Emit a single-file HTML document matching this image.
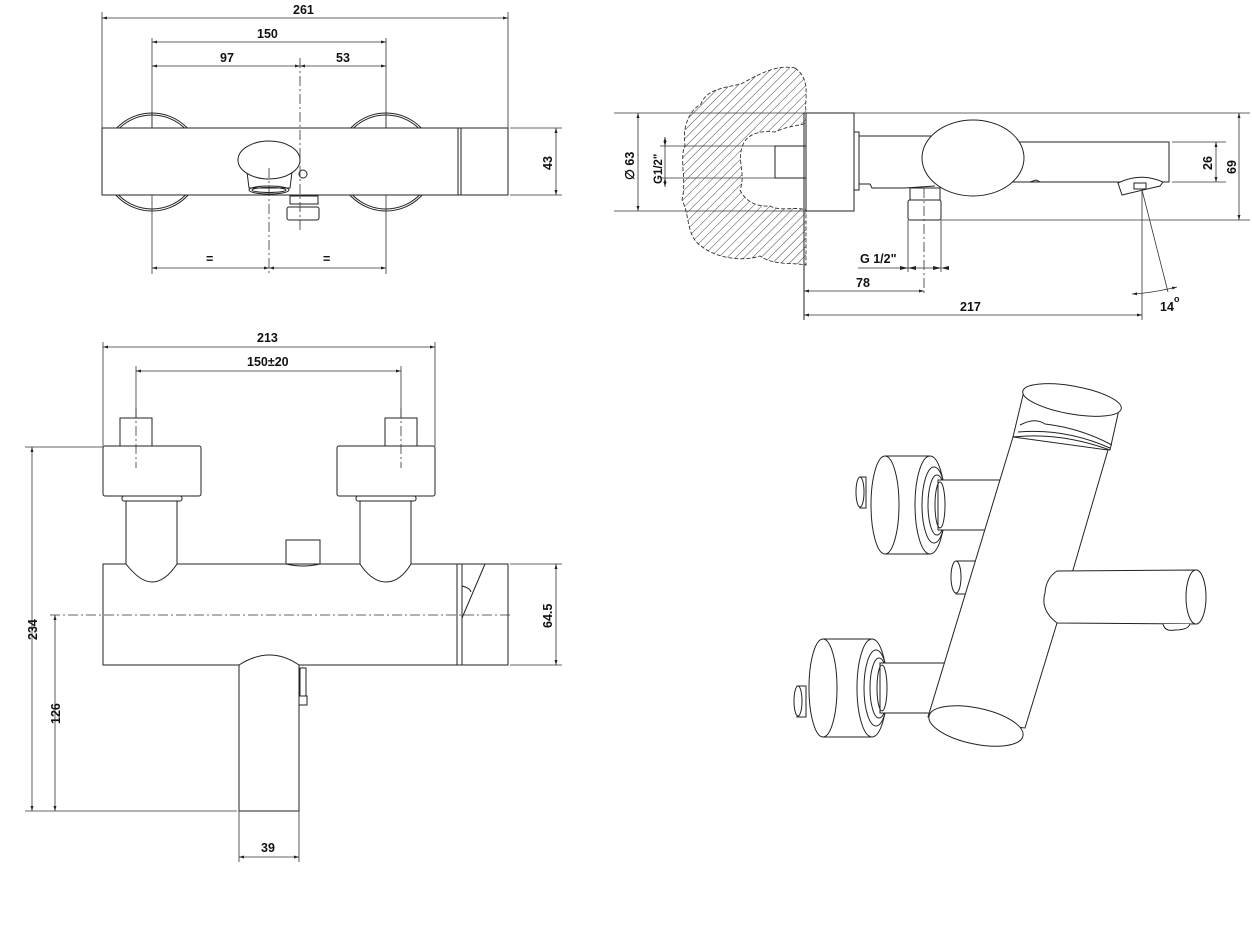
<!DOCTYPE html>
<html><head><meta charset="utf-8"><style>
html,body{margin:0;padding:0;background:#fff}
svg{display:block}
text{font-family:"Liberation Sans",Arial,sans-serif;font-weight:bold;font-size:12.5px;fill:#111}
.l{stroke:#222;stroke-width:1;fill:none}
.w{stroke:#222;stroke-width:1;fill:#fff}
.d{stroke:#333;stroke-width:0.8;fill:none}
.c{stroke:#333;stroke-width:0.8;fill:none;stroke-dasharray:10 3 2 3}
.a{stroke:#333;stroke-width:0.8;fill:none;marker-start:url(#ar);marker-end:url(#ar)}
</style></head><body>
<svg width="1252" height="926" viewBox="0 0 1252 926" xmlns="http://www.w3.org/2000/svg">
<defs>
<marker id="ar" viewBox="0 0 10 10" refX="10" refY="5" markerWidth="9" markerHeight="5" orient="auto-start-reverse" markerUnits="userSpaceOnUse"><path d="M0,2 L10,5 L0,8 Z" fill="#222"/></marker>
<pattern id="h" width="6" height="6" patternUnits="userSpaceOnUse" patternTransform="rotate(45)"><line x1="0" y1="0" x2="0" y2="6" stroke="#333" stroke-width="0.9"/></pattern>
</defs>

<!-- ===== TOP VIEW ===== -->
<line class="d" x1="102" y1="12" x2="102" y2="128"/><line class="d" x1="508" y1="12" x2="508" y2="128"/>
<line class="a" x1="102" y1="18" x2="508" y2="18"/><text x="293" y="14">261</text>
<line class="d" x1="152" y1="38" x2="152" y2="128"/><line class="d" x1="386" y1="38" x2="386" y2="128"/>
<line class="a" x1="152" y1="42" x2="386" y2="42"/><text x="257" y="38">150</text>
<line class="a" x1="152" y1="66" x2="300" y2="66"/><line class="a" x1="300" y1="66" x2="386" y2="66"/>
<text x="220" y="62">97</text><text x="336" y="62">53</text>
<circle class="l" cx="152" cy="162" r="49"/><circle class="l" cx="152" cy="162" r="47"/>
<circle class="l" cx="386" cy="162" r="49"/><circle class="l" cx="386" cy="162" r="47"/>
<rect class="w" x="102" y="128" width="356" height="67"/>
<rect class="w" x="458" y="128" width="3" height="67"/>
<rect class="w" x="461" y="128" width="47" height="67"/>
<path class="l" d="M247 172 L249 188 L290 188 L292 172"/>
<ellipse class="w" cx="269" cy="160" rx="31" ry="19"/>
<ellipse class="l" cx="269" cy="190" rx="20" ry="4"/><ellipse class="l" cx="269" cy="190" rx="17" ry="2.5"/>
<circle class="l" cx="303" cy="174" r="4"/>
<rect class="l" x="290" y="196" width="28" height="8"/>
<rect class="w" x="287" y="207" width="32" height="13" rx="2"/>
<line class="c" x1="300" y1="58" x2="300" y2="232"/>
<line class="c" x1="269" y1="168" x2="269" y2="274"/>
<line class="d" x1="152" y1="195" x2="152" y2="274"/><line class="d" x1="386" y1="195" x2="386" y2="274"/>
<line class="d" x1="152" y1="112" x2="152" y2="128"/><line class="d" x1="386" y1="112" x2="386" y2="128"/>
<line class="a" x1="152" y1="268" x2="269" y2="268"/><line class="a" x1="269" y1="268" x2="386" y2="268"/>
<text x="206" y="263">=</text><text x="323" y="263">=</text>
<line class="d" x1="510" y1="128" x2="562" y2="128"/><line class="d" x1="510" y1="195" x2="562" y2="195"/>
<line class="a" x1="556" y1="128" x2="556" y2="195"/>
<text transform="translate(552,170) rotate(-90)">43</text>

<!-- ===== SIDE VIEW ===== -->
<path d="M795 68 C812 80 804 100 806 111 L806 265 C790 262 775 266 760 256 C742 262 716 258 701 246 C686 236 690 215 682 200 C687 180 679 160 685 145 C682 126 690 110 701 104 C706 90 722 88 741 84 C756 76 775 64 795 68 Z" fill="url(#h)" stroke="#333" stroke-width="0.9" stroke-dasharray="4 2"/>
<path d="M806 123 L806 210 C795 206 781 212 770 206 C754 207 745 200 740 190 C746 175 737 160 742 148 C745 134 760 130 775 132 C790 125 800 126 806 123 Z" fill="#fff" stroke="#333" stroke-width="0.9" stroke-dasharray="4 2"/>
<rect class="l" x="775" y="146" width="31" height="32"/>
<line class="d" x1="614" y1="113" x2="1250" y2="113"/>
<line class="d" x1="614" y1="211" x2="806" y2="211"/>
<line class="a" x1="638" y1="113" x2="638" y2="211"/>
<text transform="translate(634,180) rotate(-90)">∅ 63</text>
<line class="d" x1="660" y1="146" x2="775" y2="146"/><line class="d" x1="660" y1="178" x2="775" y2="178"/>
<line class="a" x1="665" y1="137" x2="665" y2="146"/><line class="a" x1="665" y1="187" x2="665" y2="178"/>
<line class="d" x1="665" y1="146" x2="665" y2="178"/>
<text transform="translate(662,184) rotate(-90)" style="font-size:11.5px">G1/2"</text>
<line class="l" x1="804" y1="113" x2="804" y2="320"/>
<rect class="w" x="806" y="113" width="48" height="98"/>
<rect class="w" x="854" y="132" width="5" height="58"/>
<path class="l" d="M859 136 L935 136 M859 184 L870 184 L872 188 L905 188 L935 186"/>
<path class="l" d="M1018 142 L1169 142 L1169 182 L1010 182"/>
<ellipse class="w" cx="973" cy="158" rx="51" ry="38"/>
<path class="l" d="M1030 182 L1036 180 L1040 182"/>
<rect class="w" x="910" y="188" width="30" height="12"/>
<rect class="w" x="908" y="200" width="33" height="20" rx="2"/>
<line class="d" x1="941" y1="220" x2="1250" y2="220"/>
<line class="d" x1="908" y1="220" x2="908" y2="272"/><line class="d" x1="941" y1="220" x2="941" y2="272"/>
<line class="c" x1="924" y1="188" x2="924" y2="296"/>
<line class="d" x1="858" y1="268" x2="941" y2="268"/>
<path d="M908 268 l-8 -2 v4 z M908 268 l8 -2 v4 z M941 268 l-8 -2 v4 z M941 268 l8 -2 v4 z" fill="#222"/>
<text x="860" y="263">G 1/2"</text>
<line class="a" x1="804" y1="291" x2="924" y2="291"/><text x="856" y="287">78</text>
<line class="a" x1="804" y1="315" x2="1142" y2="315"/><text x="960" y="311">217</text>
<path class="w" d="M1118 183 Q1140 172 1163 182 L1160 186 L1122 195 Z"/>
<rect class="l" x="1134" y="183" width="12" height="6"/>
<line class="d" x1="1142" y1="190" x2="1142" y2="320"/>
<line class="d" x1="1142" y1="190" x2="1168" y2="292"/>
<path class="a" d="M1132 294 Q1152 293 1177 287"/>
<text x="1160" y="311">14</text><text x="1174" y="302" style="font-size:9px">o</text>
<line class="d" x1="1172" y1="142" x2="1226" y2="142"/><line class="d" x1="1172" y1="182" x2="1226" y2="182"/>
<line class="a" x1="1216" y1="142" x2="1216" y2="182"/>
<text transform="translate(1212,170) rotate(-90)">26</text>
<line class="a" x1="1239" y1="113" x2="1239" y2="220"/>
<text transform="translate(1236,174) rotate(-90)">69</text>

<!-- ===== FRONT VIEW ===== -->
<line class="d" x1="103" y1="342" x2="103" y2="446"/><line class="d" x1="435" y1="342" x2="435" y2="446"/>
<line class="a" x1="103" y1="347" x2="435" y2="347"/><text x="257" y="342">213</text>
<line class="d" x1="136" y1="366" x2="136" y2="418"/><line class="d" x1="401" y1="366" x2="401" y2="418"/>
<line class="a" x1="136" y1="371" x2="401" y2="371"/><text x="247" y="366">150±20</text>
<rect class="w" x="120" y="418" width="32" height="28"/>
<rect class="w" x="385" y="418" width="32" height="28"/>
<rect class="w" x="103" y="446" width="98" height="50" rx="2"/>
<rect class="w" x="337" y="446" width="98" height="50" rx="2"/>
<rect class="w" x="122" y="496" width="60" height="5" rx="2"/>
<rect class="w" x="356" y="496" width="60" height="5" rx="2"/>
<line class="c" x1="136" y1="408" x2="136" y2="468"/><line class="c" x1="401" y1="408" x2="401" y2="468"/>
<rect class="w" x="286" y="540" width="34" height="26"/>
<rect class="w" x="103" y="564" width="354" height="101"/>
<path class="w" d="M126 501 L126 564 Q140 582 152 582 Q165 582 177 564 L177 501 Z"/>
<path class="w" d="M360 501 L360 564 Q372 582 386 582 Q400 582 411 564 L411 501 Z"/>
<path class="l" d="M286 564 Q303 568 320 564"/>
<rect class="w" x="457" y="564" width="5" height="101"/>
<rect class="w" x="462" y="564" width="46" height="101"/>
<path class="l" d="M485 564 L462 618"/>
<path class="l" d="M462 586 Q470 588 471 592"/>
<line class="c" x1="50" y1="615" x2="510" y2="615"/>
<line class="d" x1="510" y1="564" x2="562" y2="564"/><line class="d" x1="510" y1="665" x2="562" y2="665"/>
<line class="a" x1="556" y1="564" x2="556" y2="665"/>
<text transform="translate(552,628) rotate(-90)">64.5</text>
<path class="w" d="M239 811 L239 665 Q270 645 299 665 L299 811 Z"/>
<path class="w" d="M300 668 L306 668 L306 696 L300 696 Z"/>
<rect class="w" x="299" y="696" width="8" height="9"/>
<line class="d" x1="25" y1="447" x2="103" y2="447"/>
<line class="d" x1="25" y1="811" x2="237" y2="811"/>
<line class="a" x1="32" y1="447" x2="32" y2="811"/>
<text transform="translate(37,640) rotate(-90)">234</text>
<line class="a" x1="55" y1="615" x2="55" y2="811"/>
<text transform="translate(60,724) rotate(-90)">126</text>
<line class="d" x1="239" y1="811" x2="239" y2="862"/><line class="d" x1="299" y1="811" x2="299" y2="862"/>
<line class="a" x1="239" y1="857" x2="299" y2="857"/><text x="261" y="852">39</text>

<!-- ===== ISO VIEW ===== -->
<!-- upper knob -->
<path class="w" d="M860 477 L866 477 L866 508 L860 508 Z"/><ellipse class="w" cx="860" cy="492" rx="4" ry="15"/>
<path class="w" d="M885 456 L930 456 L930 554 L885 554 Z"/>
<ellipse class="w" cx="885" cy="505" rx="14" ry="49"/>
<ellipse class="w" cx="930" cy="505" rx="15" ry="49"/>
<ellipse class="l" cx="934" cy="505" rx="12" ry="38"/>
<ellipse class="l" cx="937" cy="505" rx="9" ry="30"/>
<path class="w" d="M938 480 L1001 480 Q1008 488 1000 500 L985 530 L938 530 Z"/>
<ellipse class="l" cx="940" cy="505" rx="5" ry="23"/>
<!-- lower knob -->
<path class="w" d="M797 686 L806 686 L806 717 L797 717 Z"/><ellipse class="w" cx="798" cy="701" rx="4" ry="15"/>
<path class="w" d="M823 639 L872 639 L872 737 L823 737 Z"/>
<ellipse class="w" cx="823" cy="688" rx="14" ry="49"/>
<ellipse class="w" cx="872" cy="688" rx="15" ry="49"/>
<ellipse class="l" cx="876" cy="688" rx="12" ry="38"/>
<ellipse class="l" cx="879" cy="688" rx="9" ry="30"/>
<path class="w" d="M880 663 L944 663 Q950 672 945 682 L932 713 L880 713 Z"/>
<ellipse class="l" cx="882" cy="688" rx="5" ry="23"/>
<!-- middle stub -->
<path class="w" d="M956 561 L978 561 L978 594 L956 594 Z"/><ellipse class="w" cx="956" cy="577" rx="5" ry="16"/>
<!-- column -->
<path class="w" d="M1013 437 L1108 450 L1073 570 L1057 623 L1025 728 L928 717 Z"/>
<!-- top cap -->
<path class="w" d="M1023 395 Q1070 385 1120 405 L1110 450 Q1060 432 1013 437 Z"/>
<ellipse class="w" cx="1072" cy="400" rx="50" ry="14" transform="rotate(10 1072 400)"/>
<path class="l" d="M1020 425 Q1035 417 1045 424 Q1080 428 1112 445"/>
<path class="l" d="M1018 432 Q1065 428 1110 448"/>
<!-- bottom -->
<ellipse class="w" cx="976" cy="726" rx="48" ry="18" transform="rotate(12 976 726)"/>
<!-- spout -->
<path class="w" d="M1057 571 L1197 570 L1197 624 L1057 623 Q1040 610 1045 593 Q1046 578 1057 571 Z"/>
<ellipse class="w" cx="1196" cy="597" rx="10" ry="27"/>
<path class="w" d="M1163 624 Q1165 632 1175 630 Q1188 630 1190 624"/>
</svg>
</body></html>
